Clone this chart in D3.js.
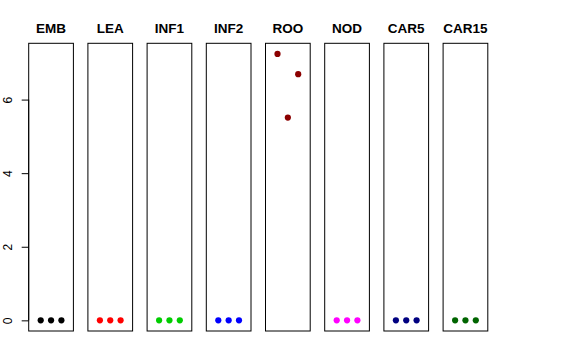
<!DOCTYPE html>
<html>
<head>
<meta charset="utf-8">
<script src="https://cdn.jsdelivr.net/npm/d3@7"></script>
<style>
html,body{margin:0;padding:0;background:#fff;}
svg{display:block;}
</style>
</head>
<body>
<svg id="chart" width="576" height="360"></svg>
<script>
const categories = ["EMB","LEA","INF1","INF2","ROO","NOD","CAR5","CAR15"];
const colors = ["#000000","#FF0000","#00CD00","#0000FF","#8B0000","#FF00FF","#000080","#006400"];
const xValues = [1,2,3];
const seriesValues = [
  [0,0,0],
  [0,0,0],
  [0,0,0],
  [0,0,0],
  [7.24,5.51,6.69],
  [0,0,0],
  [0,0,0],
  [0,0,0]
];
const yTicks = [0,2,4,6];

(function(){
const svg = d3.select("#chart");
const panelLeft0 = 28.7, panelStep = 59.2, panelW = 44.7;
const plotTop = 43.3, plotBottom = 331;

const ymax = d3.max(seriesValues.flat());
const ypad = ymax*0.04;
const y = d3.scaleLinear().domain([-ypad, ymax+ypad]).range([plotBottom, plotTop]);

categories.forEach((cat, i) => {
  const left = panelLeft0 + i*panelStep;
  const x = d3.scaleLinear().domain([-0.16, 4.16]).range([left, left+panelW]);
  const g = svg.append("g");
  g.append("rect")
    .attr("x", left).attr("y", plotTop)
    .attr("width", panelW).attr("height", plotBottom-plotTop)
    .attr("fill","none").attr("stroke","#000").attr("stroke-width",1);
  g.selectAll("circle").data(seriesValues[i]).enter().append("circle")
    .attr("cx", (d,j) => x(xValues[j]))
    .attr("cy", d => y(d))
    .attr("r", 3.1)
    .attr("fill", colors[i]);
  g.append("text")
    .attr("x", left + panelW/2).attr("y", 33)
    .attr("text-anchor","middle")
    .attr("font-family","Liberation Sans, Arial, sans-serif")
    .attr("font-weight","bold")
    .attr("font-size", 13.5)
    .text(cat);
  if (i === 0) {
    const axis = d3.axisLeft(y).tickValues(yTicks).tickSize(7).tickPadding(5).tickFormat(d3.format("d"));
    const ag = svg.append("g").attr("transform", `translate(${left},0)`).call(axis);
    ag.select(".domain").attr("d", `M0,${y(0)}V${y(6)}`).attr("stroke","#000");
    ag.selectAll(".tick line").attr("stroke","#000");
    ag.selectAll(".tick text")
      .attr("font-family","Liberation Sans, Arial, sans-serif")
      .attr("font-size", 12)
      .attr("fill","#000")
      .attr("text-anchor","middle")
      .attr("dy", null)
      .attr("x", null)
      .attr("transform", "translate(-21,0) rotate(-90)")
      .attr("dominant-baseline","central");
  }
});
})();
</script>
</body>
</html>
